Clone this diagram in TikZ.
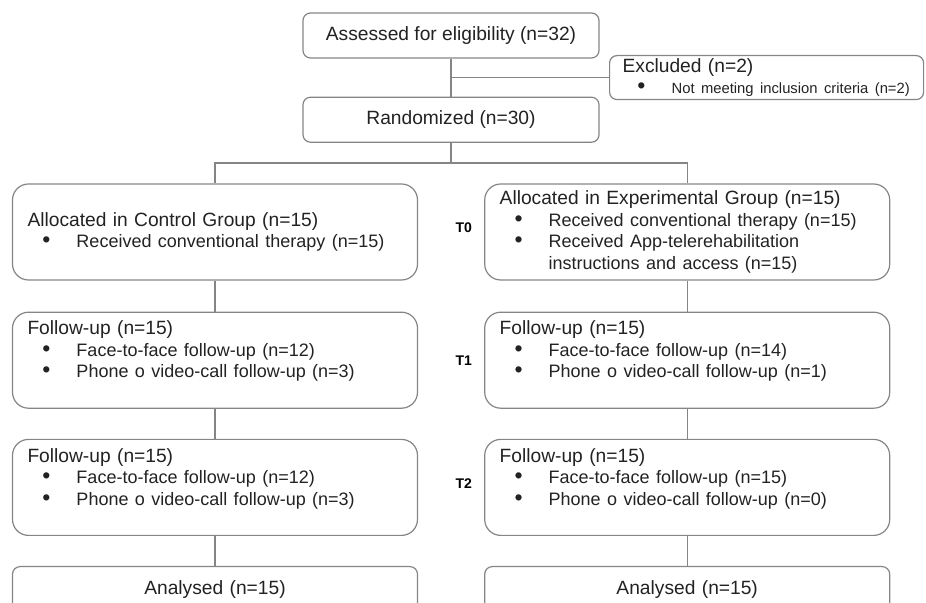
\documentclass[tikz,border=0pt]{standalone}
\usepackage{fontspec}
\setmainfont{Liberation Sans}
\usetikzlibrary{positioning, calc}
\definecolor{edge}{HTML}{858585}
\definecolor{ink}{HTML}{222222}
\newcommand{\mainsize}{\fontsize{9.6}{10.75}\selectfont}
\newcommand{\itemsize}{\fontsize{9}{10.75}\selectfont}
\newcommand{\smallsize}{\fontsize{7.4}{10.75}\selectfont}
\newcommand{\bitem}[1]{\mbox{\hspace*{7.4pt}\makebox[17.1pt][l]{\fontsize{11.5}{10}\selectfont\textbullet}#1}}
\newcommand{\bcont}[1]{\mbox{\hspace*{24.5pt}#1}}
\tikzset{
  stage/.style={draw=edge, line width=0.6pt, rounded corners=3.75pt, text=ink, align=center,
                minimum width=148pt, minimum height=22.5pt, inner sep=0pt, font=\mainsize},
  excl/.style={draw=edge, line width=0.6pt, rounded corners=3.7pt, text=ink, align=left,
               text width=144pt, minimum height=22pt, inner xsep=6.5pt, inner ysep=0pt, font=\mainsize},
  grp/.style={draw=edge, line width=0.6pt, rounded corners=8pt, text=ink, align=left,
              text width=187.5pt, minimum height=48pt, inner xsep=7.5pt, inner ysep=0pt, font=\mainsize},
  final/.style={grp, align=center, minimum height=23pt, rounded corners=3.8pt},
  tlab/.style={text=black, font=\bfseries\fontsize{7}{8}\selectfont, inner sep=0pt},
  ln/.style={draw=edge, line width=0.6pt},
}

\begin{document}
\begin{tikzpicture}[x=0.5pt, y=-0.5pt, node distance=15pt and 33pt]
  \useasboundingbox (0,0) rectangle (926,603);
  \clip (0,0) rectangle (926,603);

  % --- enrolment ---
  \node[stage] (assess) at (451,35.5) {Assessed for eligibility (n=32)};
  \node[stage, below=19pt of assess] (rand) {Randomized (n=30)};
  \coordinate (brk) at ($(assess.south)!0.5!(rand.north)$);
  \node[excl, right=79pt of brk] (exc)
       {Excluded (n=2)\\ {\smallsize\bitem{Not meeting inclusion criteria (n=2)}}};

  % --- allocation (T0) ---
  \node[grp] (ctrl) at (215,232)
       {Allocated in Control Group (n=15)\\ {\itemsize\bitem{Received conventional therapy (n=15)}}};
  \node[grp, right=33pt of ctrl] (exp)
       {Allocated in Experimental Group (n=15)\\
        {\itemsize\bitem{Received conventional therapy (n=15)}}\\
        {\itemsize\bitem{Received App-telerehabilitation}}\\
        {\itemsize\bcont{instructions and access (n=15)}}};

  % --- follow-up (T1, T2) ---
  \node[grp, below=15.5pt of ctrl] (fuc1)
       {Follow-up (n=15)\\ {\itemsize\bitem{Face-to-face follow-up (n=12)}}\\
        {\itemsize\bitem{Phone o video-call follow-up (n=3)}}\\ ~};
  \node[grp, below=15.5pt of exp] (fue1)
       {Follow-up (n=15)\\ {\itemsize\bitem{Face-to-face follow-up (n=14)}}\\
        {\itemsize\bitem{Phone o video-call follow-up (n=1)}}\\ ~};
  \node[grp, below=of fuc1] (fuc2)
       {Follow-up (n=15)\\ {\itemsize\bitem{Face-to-face follow-up (n=12)}}\\
        {\itemsize\bitem{Phone o video-call follow-up (n=3)}}\\ ~};
  \node[grp, below=of fue1] (fue2)
       {Follow-up (n=15)\\ {\itemsize\bitem{Face-to-face follow-up (n=15)}}\\
        {\itemsize\bitem{Phone o video-call follow-up (n=0)}}\\ ~};

  % --- analysis ---
  \node[final, below=of fuc2] (anac) {Analysed (n=15)};
  \node[final, below=of fue2] (anae) {Analysed (n=15)};

  % --- time points ---
  \node[tlab, right=18.5pt of ctrl, yshift=2pt] (t0) {T0};
  \node[tlab, right=18.5pt of fuc1] (t1) {T1};
  \node[tlab, right=18.5pt of fuc2, yshift=2pt] (t2) {T2};

  % --- connectors ---
  \coordinate (split) at ($(rand.south)!0.5!(rand.south |- ctrl.north)$);
  \draw[ln] (assess) -- (rand);
  \draw[ln] (brk) -- (exc);
  \draw[ln] (rand) -- (split);
  \draw[ln] (split) -| (ctrl);
  \draw[ln] (split) -| (exp);
  \draw[ln] (ctrl) -- (fuc1);
  \draw[ln] (fuc1) -- (fuc2);
  \draw[ln] (fuc2) -- (anac);
  \draw[ln] (exp) -- (fue1);
  \draw[ln] (fue1) -- (fue2);
  \draw[ln] (fue2) -- (anae);

\end{tikzpicture}
\end{document}
